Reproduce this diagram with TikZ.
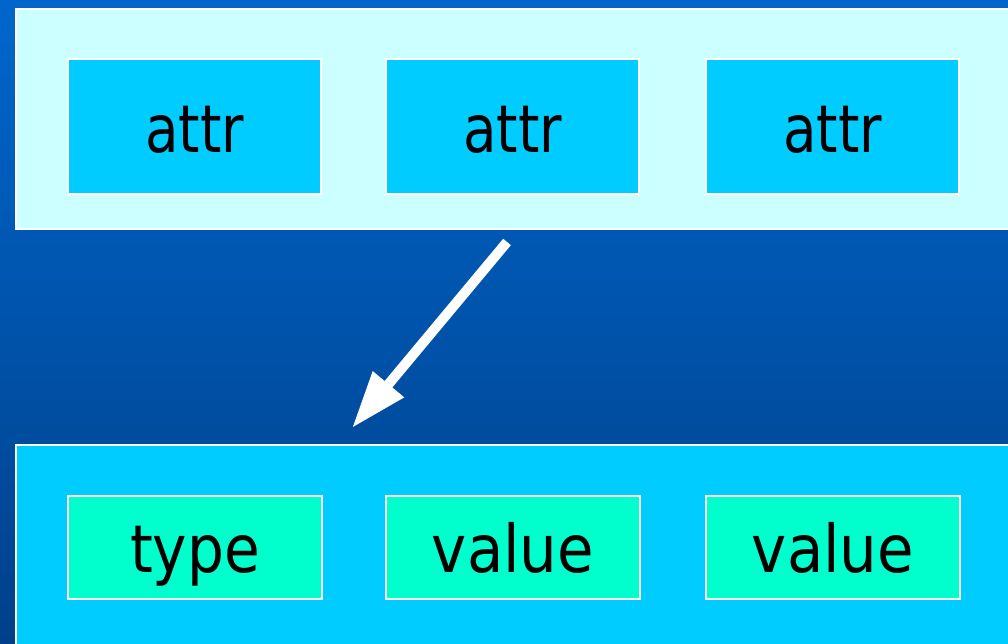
\documentclass[tikz,border=0pt]{standalone}
\usepackage{fontspec}
\setmainfont{DejaVu Sans Condensed}
\usetikzlibrary{arrows.meta}
\definecolor{bgtop}{HTML}{0066CC}
\definecolor{bgbot}{HTML}{00408A}
\definecolor{panelA}{HTML}{CCFFFF}
\definecolor{boxA}{HTML}{00CCFF}
\definecolor{boxB}{HTML}{00FFCC}
\newcommand{\lbltext}[2]{\scalebox{#1}[1.0]{#2}}
\begin{document}
\begin{tikzpicture}[x=1pt,y=-1pt,
  panel/.style={draw=white,line width=2pt,inner sep=0pt},
  attrbox/.style={draw=white,line width=2pt,fill=boxA,minimum width=253pt,minimum height=135pt,inner sep=0pt},
  valbox/.style={draw=white,line width=2pt,fill=boxB,minimum width=254pt,minimum height=103pt,inner sep=0pt},
  lbl/.style={anchor=base,inner sep=0pt,font=\fontsize{66}{68}\selectfont},
  bigarrow/.style={white,line width=10pt,-{Triangle[length=57pt,width=38pt]}}]
\useasboundingbox (0,0) rectangle (1008,644);
\shade[top color=bgtop,bottom color=bgbot] (0,0) rectangle (1008,644);
\draw[panel,fill=panelA] (16,9) rectangle (1020,229);
\draw[panel,fill=boxA] (16,445) rectangle (1020,660);
\node[attrbox] (a1) at (194.5,126.5) {};
\node[attrbox] (a2) at (512.5,126.5) {};
\node[attrbox] (a3) at (832.5,126.5) {};
\node[valbox] (v1) at (195,547.5) {};
\node[valbox] (v2) at (513,547.5) {};
\node[valbox] (v3) at (833,547.5) {};
\node[lbl] (a1t) at (a1.center |- 0,153) {\lbltext{0.92}{attr}};
\node[lbl] (a2t) at (a2.center |- 0,153) {\lbltext{0.92}{attr}};
\node[lbl] (a3t) at (a3.center |- 0,153) {\lbltext{0.92}{attr}};
\node[lbl] (v1t) at (v1.center |- 0,572) {\lbltext{0.98}{type}};
\node[lbl] (v2t) at (v2.center |- 0,572) {\lbltext{1.0}{value}};
\node[lbl] (v3t) at (v3.center |- 0,572) {\lbltext{1.0}{value}};
\coordinate (s) at (507,242);
\coordinate (t) at (352,428);
\draw[bigarrow] (s) -- (t);
\end{tikzpicture}
\end{document}
